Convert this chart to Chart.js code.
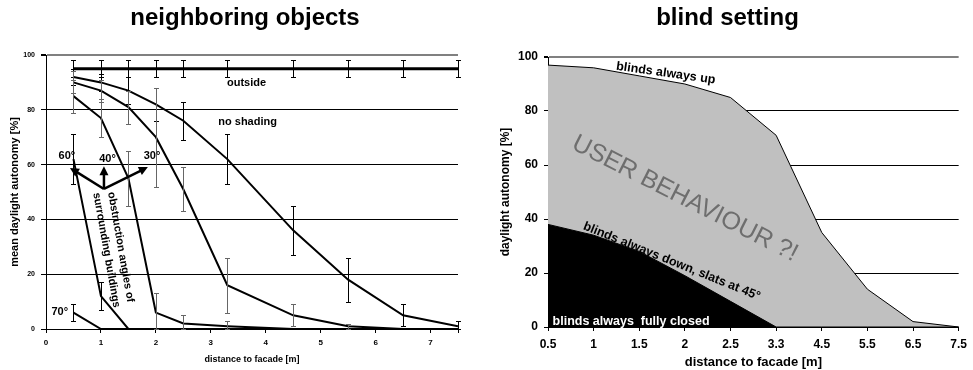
<!DOCTYPE html>
<html>
<head>
<meta charset="utf-8">
<script src="https://cdn.jsdelivr.net/npm/chart.js@4.4.1/dist/chart.umd.min.js"></script>
<style>
  body { margin: 0; background: #fff; }
  #wrap { position: relative; width: 973px; height: 370px; }
  canvas { position: absolute; top: 0; }
</style>
</head>
<body>
<div id="wrap">
  <canvas id="leftChart" width="490" height="370" style="left:0"></canvas>
  <canvas id="rightChart" width="491" height="370" style="left:482px"></canvas>
</div>
<script>
// distances to the facade [m]
const distances = [0.5, 1, 1.5, 2, 2.5, 3.3, 4.5, 5.5, 6.5, 7.5];
const distanceLabels = ['0.5', '1', '1.5', '2', '2.5', '3.3', '4.5', '5.5', '6.5', '7.5'];
const yTicks = [0, 20, 40, 60, 80, 100];
const xTicksLeft = [0, 1, 2, 3, 4, 5, 6, 7, 7.5];

// neighboring objects: mean daylight autonomy [%] and error bar half widths
const outside = [95, 95, 95, 95, 95, 95, 95, 95, 95, 95];
const outsideErr = [3, 3, 3, 3, 3, 3, 3, 3, 3, 3];
const noShading = [92, 90, 87, 82, 76, 62, 36, 18, 5, 1];
const noShadingErr = [3, 3, 5, 6, 7, 9, 9, 8, 4, 2];
const angle30 = [90, 87, 81, 70, 51, 16, 5, 1, 0, 0];
const angle30Err = [4, 4, 6, 18, 8, 10, 4, 1, 0, 0];
const angle40 = [85, 77, 55, 6, 2, 1, 0, 0, 0, 0];
const angle40Err = [6, 7, 10, 7, 3, 2, 0, 0, 0, 0];
const angle60 = [62, 12, 0, 0, 0, 0, 0, 0, 0, 0];
const angle60Err = [9, 5, 0, 0, 0, 0, 0, 0, 0, 0];
const angle70 = [6, 0, 0, 0, 0, 0, 0, 0, 0, 0];
const angle70Err = [3, 0, 0, 0, 0, 0, 0, 0, 0, 0];

// blind setting: daylight autonomy [%]
const blindsUp = [97, 96, 93, 90, 85, 71, 35, 14, 2, 0];
const blindsSlats45 = [38, 34, 28, 19, 9.5, 0, 0, 0, 0, 0];

Chart.defaults.font.family = '"Liberation Sans", Arial, sans-serif';
Chart.defaults.color = '#000';

function points(values) {
  return distances.map((d, i) => ({ x: d, y: values[i] }));
}

// draws the error bars stored on each dataset
const errorBars = {
  id: 'errorBars',
  afterDatasetsDraw(chart) {
    const { ctx, scales: { x, y } } = chart;
    ctx.save();
    ctx.lineWidth = 1;
    chart.data.datasets.forEach(ds => {
      if (!ds.errors) return;
      ctx.strokeStyle = ds.errorColor || '#000';
      ds.data.forEach((p, i) => {
        const e = ds.errors[i];
        if (!e) return;
        const px = Math.round(x.getPixelForValue(p.x)) + 0.5;
        const top = Math.round(y.getPixelForValue(Math.min(100, p.y + e))) + 0.5;
        const bot = Math.round(y.getPixelForValue(Math.max(0, p.y - e))) + 0.5;
        ctx.beginPath();
        ctx.moveTo(px, top); ctx.lineTo(px, bot);
        ctx.moveTo(px - 2.5, top); ctx.lineTo(px + 2.5, top);
        ctx.moveTo(px - 2.5, bot); ctx.lineTo(px + 2.5, bot);
        ctx.stroke();
      });
    });
    ctx.restore();
  }
};

// heading centred on the canvas, plus text labels and arrows placed in data units
const notes = {
  id: 'notes',
  afterDraw(chart, args, opts) {
    const { ctx, scales: { x, y } } = chart;
    ctx.save();
    if (opts.heading) {
      ctx.font = 'bold 24px "Liberation Sans"';
      ctx.fillStyle = '#000';
      ctx.textAlign = 'center';
      ctx.textBaseline = 'middle';
      ctx.fillText(opts.heading, chart.width / 2, 18.4);
    }
    (opts.arrows || []).forEach(a => {
      const x0 = x.getPixelForValue(a.from[0]), y0 = y.getPixelForValue(a.from[1]);
      const x1 = x.getPixelForValue(a.to[0]), y1 = y.getPixelForValue(a.to[1]);
      const ang = Math.atan2(y1 - y0, x1 - x0);
      const head = 9;
      ctx.strokeStyle = '#000';
      ctx.fillStyle = '#000';
      ctx.lineWidth = 2.5;
      ctx.beginPath();
      ctx.moveTo(x0, y0);
      ctx.lineTo(x1 - Math.cos(ang) * head * 0.8, y1 - Math.sin(ang) * head * 0.8);
      ctx.stroke();
      ctx.beginPath();
      ctx.moveTo(x1, y1);
      ctx.lineTo(x1 - head * Math.cos(ang) + 4.5 * Math.sin(ang), y1 - head * Math.sin(ang) - 4.5 * Math.cos(ang));
      ctx.lineTo(x1 - head * Math.cos(ang) - 4.5 * Math.sin(ang), y1 - head * Math.sin(ang) + 4.5 * Math.cos(ang));
      ctx.closePath();
      ctx.fill();
    });
    (opts.labels || []).forEach(l => {
      ctx.save();
      ctx.translate(x.getPixelForValue(l.x), y.getPixelForValue(l.y));
      ctx.rotate((l.rot || 0) * Math.PI / 180);
      ctx.font = l.font;
      ctx.fillStyle = l.color || '#000';
      ctx.textAlign = 'center';
      ctx.textBaseline = 'middle';
      ctx.fillText(l.text, 0, 0);
      ctx.restore();
    });
    ctx.restore();
  }
};

function gridColor(c) { return c.tick && c.tick.value === 100 ? '#808080' : '#000'; }
function gridWidth(c) { return c.tick && c.tick.value === 100 ? 2 : 1; }

const leftSeries = [
  { data: outside, errors: outsideErr, width: 3 },
  { data: noShading, errors: noShadingErr, width: 2 },
  { data: angle30, errors: angle30Err, width: 2, errorColor: '#666' },
  { data: angle40, errors: angle40Err, width: 2, errorColor: '#666' },
  { data: angle60, errors: angle60Err, width: 2 },
  { data: angle70, errors: angle70Err, width: 2 }
];

new Chart(document.getElementById('leftChart'), {
  type: 'line',
  data: {
    datasets: leftSeries.map(s => ({
      data: points(s.data),
      errors: s.errors,
      errorColor: s.errorColor,
      borderColor: '#000',
      borderWidth: s.width,
      pointRadius: 0,
      tension: 0,
      fill: false
    }))
  },
  options: {
    responsive: false,
    animation: false,
    devicePixelRatio: 1,
    layout: { padding: { left: 0, right: 32, top: 55, bottom: 0 } },
    plugins: {
      legend: { display: false },
      tooltip: { enabled: false },
      title: { display: false },
      notes: {
        heading: 'neighboring objects',
        labels: [
          { text: 'outside', x: 3.65, y: 89.8, font: 'bold 11px "Liberation Sans"' },
          { text: 'no shading', x: 3.67, y: 75.5, font: 'bold 11px "Liberation Sans"' },
          { text: '60°', x: 0.38, y: 63, font: 'bold 11px "Liberation Sans"' },
          { text: '40°', x: 1.12, y: 62, font: 'bold 11px "Liberation Sans"' },
          { text: '30°', x: 1.93, y: 63, font: 'bold 11px "Liberation Sans"' },
          { text: '70°', x: 0.25, y: 6.2, font: 'bold 11px "Liberation Sans"' },
          { text: 'obstruction angles of', x: 1.36, y: 29.9, rot: 80, font: 'bold 11px "Liberation Sans"' },
          { text: 'surrounding buildings', x: 1.1, y: 28.8, rot: 80, font: 'bold 11px "Liberation Sans"' }
        ],
        arrows: [
          { from: [1.055, 51.1], to: [0.436, 58.8] },
          { from: [1.055, 51.1], to: [1.055, 59.4] },
          { from: [1.055, 51.1], to: [1.855, 59.1] }
        ]
      }
    },
    scales: {
      x: {
        type: 'linear',
        min: 0,
        max: 7.5,
        afterBuildTicks: s => { s.ticks = xTicksLeft.map(v => ({ value: v })); },
        afterFit: s => { s.height = 41; },
        ticks: {
          autoSkip: false,
          maxRotation: 0,
          padding: 5,
          font: { size: 8, weight: 'bold' },
          callback: v => (v === 7.5 ? '' : v)
        },
        grid: { drawOnChartArea: false, tickLength: 4, color: '#000' },
        border: { color: '#000', width: 1 },
        title: {
          display: true,
          text: 'distance to facade [m]',
          font: { size: 9, weight: 'bold' },
          padding: { top: 0, bottom: 5 }
        }
      },
      y: {
        min: 0,
        max: 100,
        afterBuildTicks: s => { s.ticks = yTicks.map(v => ({ value: v })); },
        afterFit: s => { s.width = 46; },
        ticks: { padding: 6, font: { size: 7, weight: 'bold' } },
        grid: { color: gridColor, lineWidth: gridWidth, tickLength: 5, tickColor: '#000' },
        border: { color: '#000', width: 1 },
        title: {
          display: true,
          text: 'mean daylight autonomy [%]',
          font: { size: 11, weight: 'bold' },
          padding: { top: 8.4, bottom: 0 }
        }
      }
    }
  },
  plugins: [errorBars, notes]
});

new Chart(document.getElementById('rightChart'), {
  type: 'line',
  data: {
    labels: distanceLabels,
    datasets: [
      {
        label: 'blinds always down, slats at 45°',
        data: blindsSlats45,
        borderColor: '#000',
        backgroundColor: '#000',
        borderWidth: 1,
        pointRadius: 0,
        tension: 0,
        fill: 'origin'
      },
      {
        label: 'blinds always up',
        data: blindsUp,
        borderColor: '#000',
        backgroundColor: '#c0c0c0',
        borderWidth: 1,
        pointRadius: 0,
        tension: 0,
        fill: 'origin'
      }
    ]
  },
  options: {
    responsive: false,
    animation: false,
    devicePixelRatio: 1,
    layout: { padding: { left: 0, right: 14, top: 57, bottom: 0 } },
    plugins: {
      legend: { display: false },
      tooltip: { enabled: false },
      title: { display: false },
      notes: {
        heading: 'blind setting',
        labels: [
          { text: 'blinds always up', x: 2.58, y: 94, rot: 8, font: 'bold 12.5px "Liberation Sans"' },
          { text: 'USER BEHAVIOUR ?!', x: 3.0, y: 47.5, rot: 27, font: '25px "Liberation Sans"', color: '#6e6e6e' },
          { text: 'blinds always down, slats at 45°', x: 2.71, y: 24.3, rot: 22, font: 'bold 12.5px "Liberation Sans"' },
          { text: 'blinds always  fully closed', x: 1.82, y: 2.2, font: 'bold 12.5px "Liberation Sans"', color: '#fff' }
        ]
      }
    },
    scales: {
      x: {
        type: 'category',
        offset: false,
        afterFit: s => { s.height = 43; },
        ticks: { autoSkip: false, maxRotation: 0, padding: 6, font: { size: 12, weight: 'bold' } },
        grid: { drawOnChartArea: false, tickLength: 4, color: '#000' },
        border: { color: '#000', width: 1 },
        title: {
          display: true,
          text: 'distance to facade [m]',
          font: { size: 13, weight: 'bold' },
          padding: { top: 0, bottom: 0 }
        }
      },
      y: {
        min: 0,
        max: 100,
        afterBuildTicks: s => { s.ticks = yTicks.map(v => ({ value: v })); },
        afterFit: s => { s.width = 66; },
        ticks: { padding: 6, font: { size: 12, weight: 'bold' } },
        grid: { color: gridColor, lineWidth: gridWidth, tickLength: 4, tickColor: '#000' },
        border: { color: '#000', width: 1 },
        title: {
          display: true,
          text: 'daylight autonomy [%]',
          font: { size: 12, weight: 'bold' },
          padding: { top: 16.8, bottom: 0 }
        }
      }
    }
  },
  plugins: [notes]
});
</script>
</body>
</html>
